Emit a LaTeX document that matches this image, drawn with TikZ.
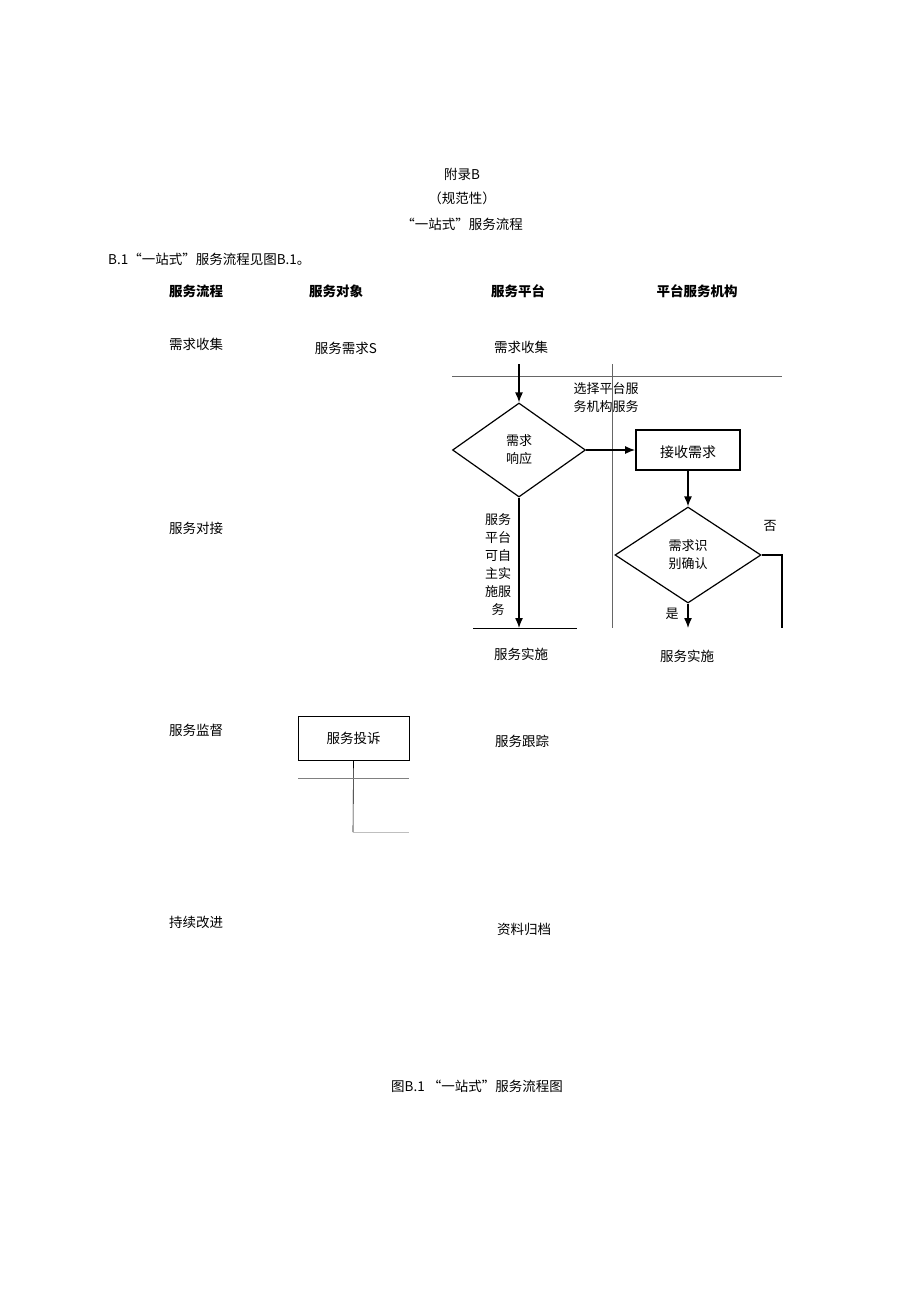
\documentclass[tikz,border=0pt]{standalone}
\usepackage{fontspec}
\setmainfont{Liberation Serif}
\newfontfamily\cjk{Noto Sans CJK SC}
\usetikzlibrary{shapes.geometric,arrows.meta}
\begin{document}
\begin{tikzpicture}[x=1pt,y=-1pt,
  txt/.style={font=\cjk\fontsize{13.5}{16}\selectfont,inner sep=0},
  hd/.style={font=\cjk\bfseries\fontsize{13.5}{16}\selectfont,inner sep=0},
  fl/.style={font=\cjk\fontsize{13}{18}\selectfont,inner sep=0,align=center},
  ar/.style={line width=1.3pt,-{Latex[length=10pt,width=8pt]}}]
\useasboundingbox (0,0) rectangle (920,1301);
\node[txt] (t1) at (462,174) {附录B};
\node[txt] (t2) at (462,198) {（规范性）};
\node[txt] (t3) at (462,224) {“一站式”服务流程};
\node[txt,anchor=west] (intro) at (108,259) {B.1“一站式”服务流程见图B.1。};
\node[hd] (h1) at (196,291) {服务流程};
\node[hd] (h2) at (336,291) {服务对象};
\node[hd] (h3) at (518,291) {服务平台};
\node[hd] (h4) at (697,291) {平台服务机构};
\node[txt] (r1) at (196,344) {需求收集};
\node[txt] (r2) at (196,528) {服务对接};
\node[txt] (r3) at (196,730) {服务监督};
\node[txt] (r4) at (196,922) {持续改进};
\node[txt] (s1) at (346,348) {服务需求S};
\node[txt] (p1) at (521,347) {需求收集};
\draw[line width=0.5pt,gray!80!black] (452,376) -- (782,376);
\draw[line width=0.5pt,gray!80!black] (612,364) -- (612,628);
\coordinate (a0) at (519,364);
\node[draw,line width=1.2pt,minimum width=133pt,minimum height=94pt,diamond,shape aspect=1.41,inner sep=0] (d1) at (519,450) {};
\node[fl] at (519,450) {需求\\响应};
\node[draw,line width=1.8pt,minimum width=104pt,minimum height=40pt,inner sep=0] (b1) at (688,450) {};
\node[fl,font=\cjk\fontsize{14}{16}\selectfont] at (688,452) {接收需求};
\node[fl] (lab) at (606,398) {选择平台服\\务机构服务};
\node[draw,line width=1.2pt,minimum width=146pt,minimum height=96pt,diamond,shape aspect=1.52,inner sep=0] (d2) at (688,555) {};
\node[fl] at (688,555) {需求识\\别确认};
\draw[ar] (a0) -- (d1.north);
\draw[ar] (d1.east) -- (b1.west);
\draw[ar] (b1.south) -- (d2.north);
\coordinate (e1) at (519,628);
\coordinate (e2) at (688,628);
\coordinate (e3) at (782,628);
\draw[ar] (d1.south) -- (e1);
\draw[ar] (d2.south) -- (e2);
\draw[line width=1.2pt] (d2.east) -| (e3);
\draw[line width=0.8pt] (473,628) -- (577,628);
\node[fl,anchor=north] at (498,513) {服务\\平台\\可自\\主实\\施服\\务};
\node[fl] at (672,614) {是};
\node[fl] at (770,526) {否};
\node[txt] (i1) at (521,654) {服务实施};
\node[txt] (i2) at (687,656) {服务实施};
\node[draw,line width=0.6pt,minimum width=111pt,minimum height=44pt,txt] (c1) at (353.5,738) {服务投诉};
\coordinate (c2) at (353,832);
\coordinate (c3) at (409,832);
\draw[line width=0.6pt] (c1.south) -- (c2);
\draw[line width=0.4pt,gray!50] (c2) -- (c3);
\draw[line width=1pt,gray] (298,778) -- (409,778);
\node[txt] (k1) at (522,741) {服务跟踪};
\node[txt] (k2) at (524,929) {资料归档};
\node[txt] (cap) at (477,1086) {图B.1 “一站式”服务流程图};
\end{tikzpicture}
\end{document}
